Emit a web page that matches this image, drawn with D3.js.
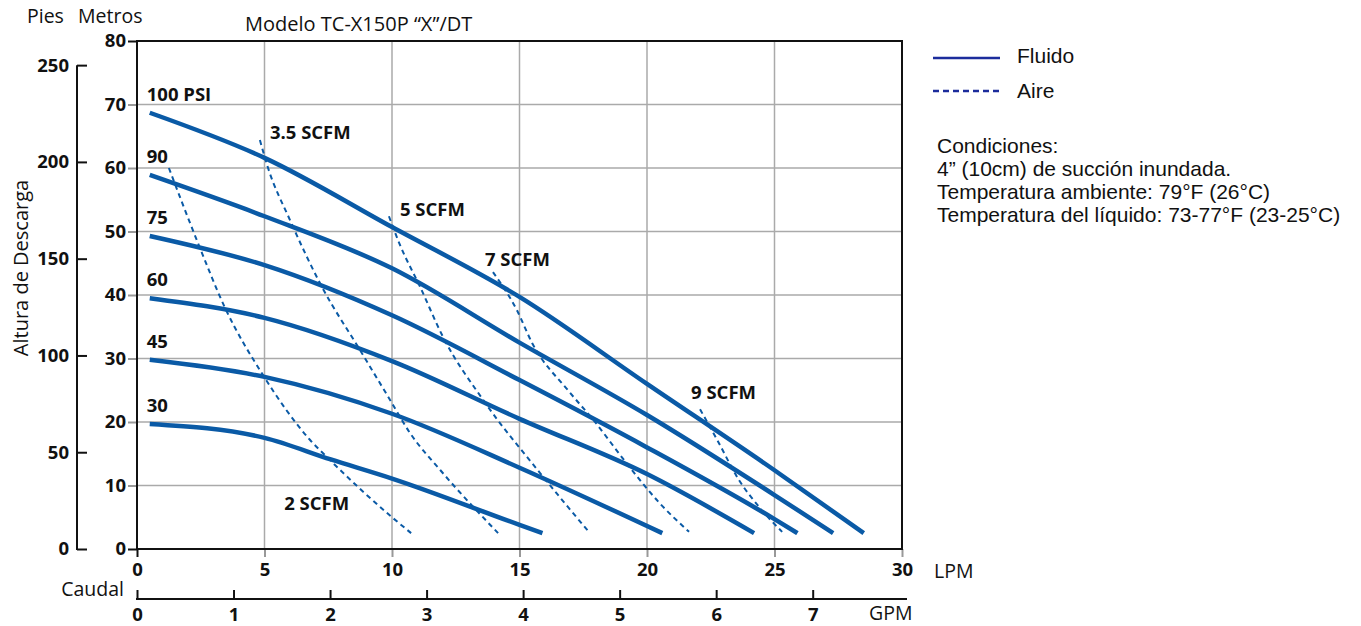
<!DOCTYPE html>
<html>
<head>
<meta charset="utf-8">
<script src="https://cdn.jsdelivr.net/npm/d3@7"></script>
<style>
  body { margin: 0; background: #fff; }
  svg text { fill: #111; }
  .bold { font-family: "Open Sans", sans-serif; font-weight: 700; font-size: 18.5px; }
  .reg { font-family: "Open Sans", sans-serif; font-size: 19.5px; }
  .legend { font-family: "Liberation Sans", Arial, sans-serif; font-size: 21px; }
</style>
</head>
<body>
<svg id="chart" width="1361" height="626"></svg>
<script>
// tick values
var lpmTicks = [0, 5, 10, 15, 20, 25, 30]
var meterTicks = [0, 10, 20, 30, 40, 50, 60, 70, 80]
var footTicks = [0, 50, 100, 150, 200, 250]
var gpmTicks = [0, 1, 2, 3, 4, 5, 6, 7]

// fluid curves, [LPM, metros]
var psiNames = ['100 PSI', '90', '75', '60', '45', '30']
var psi100 = [[0.5, 68.7], [5, 61.6], [10, 50.7], [15, 39.7], [20, 26.0], [25, 12.4], [28.5, 2.5]]
var psi90 = [[0.5, 58.9], [5, 52.4], [10, 44.2], [15, 32.5], [20, 21.1], [25, 8.5], [27.3, 2.5]]
var psi75 = [[0.5, 49.3], [5, 44.7], [10, 36.8], [15, 26.6], [20, 16.0], [25, 4.7], [25.9, 2.5]]
var psi60 = [[0.5, 39.5], [5, 36.4], [10, 29.6], [15, 20.5], [20, 11.8], [24.2, 2.5]]
var psi45 = [[0.5, 29.8], [5, 27.1], [10, 21.3], [15, 12.8], [20.6, 2.5]]
var psi30 = [[0.5, 19.7], [5, 17.5], [7.6, 14.1], [10, 11.1], [15, 3.8], [15.9, 2.5]]
var psiCurves = [psi100, psi90, psi75, psi60, psi45, psi30]

// air curves, [LPM, metros]
var scfmNames = ['2 SCFM', '3.5 SCFM', '5 SCFM', '7 SCFM', '9 SCFM']
var scfm2 = [[1.25, 60.0], [2.39, 48.2], [3.45, 38.0], [4.94, 27.4], [6.78, 17.2], [7.57, 14.0], [10.0, 5.0], [10.75, 2.5]]
var scfm35 = [[4.82, 64.4], [5.1, 60.5], [6.0, 51.8], [7.25, 41.3], [8.75, 31.3], [9.92, 23.5], [10.7, 18.3], [11.9, 12.4], [14.16, 2.5]]
var scfm5 = [[9.88, 52.4], [10.3, 48.0], [11.1, 41.3], [12.0, 33.4], [13.57, 23.5], [15.8, 12.0], [17.76, 2.5]]
var scfm7 = [[13.96, 43.6], [14.9, 37.6], [15.5, 32.4], [16.9, 25.0], [17.9, 20.3], [19.2, 13.5], [20.5, 7.2], [21.65, 2.7]]
var scfm9 = [[22.08, 22.0], [22.75, 17.2], [23.6, 10.9], [24.4, 6.6], [25.3, 2.7]]
var scfmCurves = [scfm2, scfm35, scfm5, scfm7, scfm9]

var notes = ['Condiciones:', '4” (10cm) de succión inundada.', 'Temperatura ambiente: 79°F (26°C)', 'Temperatura del líquido: 73-77°F (23-25°C)']

var blue = '#0a5aa6'
var svg = d3.select('#chart')

var x = d3.scaleLinear().domain([0, 30]).range([137, 902])
var y = d3.scaleLinear().domain([0, 80]).range([549, 41])
var yFt = d3.scaleLinear().domain([0, 80 / 0.3048]).range([549, 41])
var xGpm = d3.scaleLinear().domain([0, 30 / 3.78541]).range([137, 902])

// grid
var grid = svg.append('g').attr('stroke', '#aaa').attr('stroke-width', 1.5)
grid.selectAll('.vg').data(lpmTicks.slice(1, -1)).enter().append('line')
    .attr('x1', function (d) { return x(d) }).attr('x2', function (d) { return x(d) })
    .attr('y1', y(80)).attr('y2', y(0))
grid.selectAll('.hg').data(meterTicks.slice(1, -1)).enter().append('line')
    .attr('x1', x(0)).attr('x2', x(30))
    .attr('y1', function (d) { return y(d) }).attr('y2', function (d) { return y(d) })

// axes
var axM = svg.append('g').attr('transform', 'translate(' + x(0) + ',0)')
    .call(d3.axisLeft(y).tickValues(meterTicks).tickSize(9).tickPadding(2))
var axL = svg.append('g').attr('transform', 'translate(0,' + y(0) + ')')
    .call(d3.axisBottom(x).tickValues(lpmTicks).tickSize(8).tickPadding(6))
var axF = svg.append('g').attr('transform', 'translate(77,0)')
    .call(d3.axisLeft(yFt).tickValues(footTicks).tickSize(-10).tickPadding(8))
var axG = svg.append('g').attr('transform', 'translate(0,599)')
    .call(d3.axisBottom(xGpm).tickValues(gpmTicks).tickSize(-9).tickPadding(9))

;[axM, axL, axF, axG].forEach(function (a) {
    a.select('.domain').remove()
    a.selectAll('text').attr('class', 'bold').attr('font-family', null).attr('font-size', null)
    a.selectAll('line').attr('stroke', '#111').attr('stroke-width', 2)
})
axM.selectAll('.tick line').attr('stroke', function (d) { return d == 0 || d == 80 ? '#111' : '#999' })
axL.selectAll('.tick line').attr('stroke', function (d) { return d == 0 ? '#111' : '#999' })

svg.append('line').attr('x1', 77).attr('x2', 77).attr('y1', yFt(250)).attr('y2', yFt(0) + 1)
    .attr('stroke', '#111').attr('stroke-width', 2)
svg.append('line').attr('x1', 136).attr('x2', 907).attr('y1', 599).attr('y2', 599)
    .attr('stroke', '#111').attr('stroke-width', 2)

// frame
svg.append('rect').attr('x', x(0)).attr('y', y(80)).attr('width', x(30) - x(0)).attr('height', y(0) - y(80))
    .attr('fill', 'none').attr('stroke', '#111').attr('stroke-width', 2)

// curves
var line = d3.line().x(function (d) { return x(d[0]) }).y(function (d) { return y(d[1]) }).curve(d3.curveMonotoneX)

svg.selectAll('.air').data(scfmCurves).enter().append('path')
    .attr('d', line).attr('fill', 'none').attr('stroke', blue).attr('stroke-width', 2)
    .attr('stroke-dasharray', '5,4')

svg.selectAll('.fluid').data(psiCurves).enter().append('path')
    .attr('d', line).attr('fill', 'none').attr('stroke', blue).attr('stroke-width', 4.5)

svg.selectAll('.psiLabel').data(psiCurves).enter().append('text')
    .attr('class', 'bold')
    .attr('x', function (d) { return x(d[0][0]) - 3 })
    .attr('y', function (d) { return y(d[0][1]) - 12 })
    .text(function (d, i) { return psiNames[i] })

// label offsets from the start of each air curve (2 SCFM is taken from its end)
var scfmOff = [[-127, -23], [10, -1], [11, 0], [-8, -6], [-9, -10]]
svg.selectAll('.scfmLabel').data(scfmCurves).enter().append('text')
    .attr('class', 'bold')
    .attr('x', function (d, i) { var p = i == 0 ? d[d.length - 1] : d[0]; return x(p[0]) + scfmOff[i][0] })
    .attr('y', function (d, i) { var p = i == 0 ? d[d.length - 1] : d[0]; return y(p[1]) + scfmOff[i][1] })
    .text(function (d, i) { return scfmNames[i] })

// axis titles
svg.append('text').attr('class', 'reg').attr('x', 27).attr('y', 23).text('Pies')
svg.append('text').attr('class', 'reg').attr('x', 78).attr('y', 23).text('Metros')
svg.append('text').attr('class', 'reg').attr('x', 245).attr('y', 31).style('font-size', '20px').text('Modelo TC-X150P “X”/DT')
svg.append('text').attr('class', 'reg').attr('transform', 'translate(28,268) rotate(-90)')
    .attr('text-anchor', 'middle').style('font-size', '20px').text('Altura de Descarga')
svg.append('text').attr('class', 'reg').attr('x', 934).attr('y', 578).text('LPM')
svg.append('text').attr('class', 'reg').attr('x', 869).attr('y', 620).text('GPM')
svg.append('text').attr('class', 'reg').attr('x', 124).attr('y', 596).attr('text-anchor', 'end').text('Caudal')

// legend
var lg = svg.append('g')
lg.append('line').attr('x1', 933).attr('x2', 1000).attr('y1', 58).attr('y2', 58)
    .attr('stroke', '#1c2c9c').attr('stroke-width', 2.5)
lg.append('line').attr('x1', 933).attr('x2', 1000).attr('y1', 91).attr('y2', 91)
    .attr('stroke', '#1c2c9c').attr('stroke-width', 2.5).attr('stroke-dasharray', '6,4')
lg.append('text').attr('class', 'legend').attr('x', 1017).attr('y', 63).text('Fluido')
lg.append('text').attr('class', 'legend').attr('x', 1017).attr('y', 98).text('Aire')
lg.selectAll('.note').data(notes).enter().append('text')
    .attr('class', 'legend').attr('x', 937)
    .attr('y', function (d, i) { return 153 + i * 23 })
    .text(function (d) { return d })
</script>
</body>
</html>
